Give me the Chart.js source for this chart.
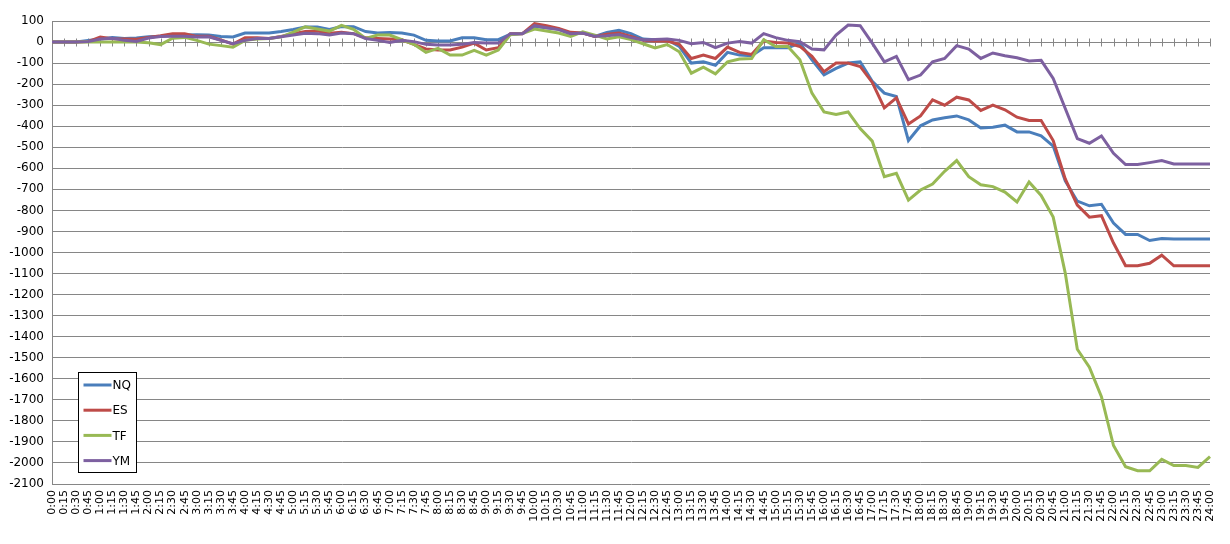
<!DOCTYPE html>
<html>
<head>
<meta charset="utf-8">
<script src="https://cdn.jsdelivr.net/npm/chart.js@4.4.1/dist/chart.umd.min.js"></script>
<style>
  html, body { margin: 0; padding: 0; background: #fff; }
  canvas { display: block; }
</style>
</head>
<body>
<canvas id="chart" width="1230" height="544"></canvas>
<script>
const timeLabels = [
  '0:00','0:15','0:30','0:45','1:00','1:15','1:30','1:45','2:00','2:15','2:30','2:45',
  '3:00','3:15','3:30','3:45','4:00','4:15','4:30','4:45','5:00','5:15','5:30','5:45',
  '6:00','6:15','6:30','6:45','7:00','7:15','7:30','7:45','8:00','8:15','8:30','8:45',
  '9:00','9:15','9:30','9:45','10:00','10:15','10:30','10:45','11:00','11:15','11:30','11:45',
  '12:00','12:15','12:30','12:45','13:00','13:15','13:30','13:45','14:00','14:15','14:30','14:45',
  '15:00','15:15','15:30','15:45','16:00','16:15','16:30','16:45','17:00','17:15','17:30','17:45',
  '18:00','18:15','18:30','18:45','19:00','19:15','19:30','19:45','20:00','20:15','20:30','20:45',
  '21:00','21:15','21:30','21:45','22:00','22:15','22:30','22:45','23:00','23:15','23:30','23:45',
  '24:00'
];

const nqValues = [
  0, 0, 0, 8, 15, 22, 17, 19, 25, 28, 33, 33,
  35, 33, 26, 24, 43, 43, 43, 50, 60, 72, 71, 60,
  74, 73, 50, 43, 45, 43, 33, 8, 5, 5, 20, 20,
  11, 11, 37, 40, 74, 68, 62, 40, 43, 27, 45, 56,
  40, 14, 11, 11, -21, -100, -94, -110, -49, -62, -65, -27,
  -27, -27, -5, -84, -156, -125, -100, -94, -186, -243, -259, -468,
  -398, -370, -360, -351, -370, -408, -405, -395, -427, -427, -446, -494,
  -660, -756, -778, -771, -860, -914, -914, -943, -933, -936, -936, -936,
  -936
];

const esValues = [
  0, 0, 0, 2, 24, 16, 15, 13, 22, 30, 40, 39,
  27, 27, 10, -10, 20, 20, 17, 27, 40, 50, 52, 42,
  47, 40, 20, 17, 14, 11, -11, -33, -38, -38, -24, -5,
  -38, -27, 40, 40, 88, 78, 65, 46, 43, 27, 37, 43,
  27, 8, 5, 5, -11, -78, -62, -78, -24, -49, -59, 5,
  -2, -5, -21, -68, -141, -100, -100, -116, -192, -313, -265, -389,
  -351, -275, -300, -262, -275, -325, -300, -322, -357, -373, -373, -468,
  -650, -775, -832, -825, -955, -1063, -1063, -1051, -1013, -1063, -1063, -1063,
  -1063
];

const tfValues = [
  0, 0, 0, 0, 0, 0, 0, 0, -3, -12, 18, 22,
  8, -10, -17, -25, 8, 15, 17, 25, 47, 72, 62, 52,
  79, 60, 17, 33, 33, 11, -11, -49, -30, -62, -62, -40,
  -62, -38, 35, 40, 62, 52, 43, 27, 49, 33, 15, 25,
  12, -8, -28, -12, -46, -148, -119, -151, -94, -81, -78, 11,
  -21, -21, -84, -243, -332, -344, -332, -411, -471, -640, -624, -751,
  -703, -675, -614, -563, -640, -678, -687, -713, -760, -665, -729, -832,
  -1098, -1460, -1545, -1685, -1917, -2018, -2037, -2037, -1983, -2012, -2012, -2021,
  -1970
];

const ymValues = [
  0, 0, 0, 2, 14, 18, 8, 3, 19, 26, 27, 27,
  24, 25, 8, -8, 8, 17, 17, 25, 33, 42, 40, 33,
  43, 40, 17, 8, -2, 8, 2, -11, -14, -14, -11, -2,
  -5, -5, 40, 40, 78, 68, 59, 40, 43, 27, 30, 36,
  21, 10, 12, 14, 8, -8, -2, -27, -5, 2, -5, 40,
  21, 8, 2, -33, -37, 33, 81, 78, -5, -94, -68, -179,
  -157, -94, -78, -17, -33, -78, -52, -65, -75, -90, -87, -173,
  -316, -459, -481, -446, -529, -582, -582, -573, -563, -579, -579, -579,
  -579
];

const seriesNames = ['NQ', 'ES', 'TF', 'YM'];
const seriesColors = ['#4a7ebb', '#be4b48', '#98b954', '#7d60a0'];
const seriesValues = [nqValues, esValues, tfValues, ymValues];

const gridColor = '#868686';

// x axis crosses at zero, with tick marks on both sides like the original
const zeroAxisTicks = {
  id: 'zeroAxisTicks',
  beforeDatasetsDraw(chart) {
    const { ctx, scales: { x, y } } = chart;
    const y0 = Math.round(y.getPixelForValue(0)) + 0.5;
    ctx.save();
    ctx.strokeStyle = gridColor;
    ctx.lineWidth = 1;
    ctx.beginPath();
    ctx.moveTo(x.left, y0);
    ctx.lineTo(x.right, y0);
    for (let i = 0; i < timeLabels.length; i++) {
      const px = Math.round(x.getPixelForValue(i)) + 0.5;
      ctx.moveTo(px, y0 - 4);
      ctx.lineTo(px, y0 + 4);
    }
    ctx.stroke();
    ctx.restore();
  }
};

// boxed legend sitting inside the plot, bottom left
const boxLegend = {
  id: 'boxLegend',
  afterDraw(chart) {
    const { ctx, chartArea } = chart;
    const left = Math.round(chartArea.left + 26) + 0.5;
    const top = Math.round(chartArea.bottom - 112) + 0.5;
    const w = 58, h = 100;
    ctx.save();
    ctx.fillStyle = '#fff';
    ctx.fillRect(left, top, w, h);
    ctx.strokeStyle = '#000';
    ctx.lineWidth = 1;
    ctx.strokeRect(left, top, w, h);
    ctx.font = '12px "DejaVu Sans"';
    ctx.textBaseline = 'middle';
    ctx.fillStyle = '#000';
    chart.data.datasets.forEach((ds, i) => {
      const cy = top + 12.5 + i * 25.2;
      ctx.strokeStyle = ds.borderColor;
      ctx.lineWidth = 3;
      ctx.beginPath();
      ctx.moveTo(left + 5, cy);
      ctx.lineTo(left + 33, cy);
      ctx.stroke();
      ctx.fillText(ds.label, left + 34, cy + 1);
    });
    ctx.restore();
  }
};

Chart.defaults.font.family = '"DejaVu Sans", sans-serif';
Chart.defaults.color = '#000';

const ctx = document.getElementById('chart').getContext('2d');
new Chart(ctx, {
  type: 'line',
  data: {
    labels: timeLabels,
    datasets: seriesNames.map((name, i) => ({
      label: name,
      data: seriesValues[i],
      borderColor: seriesColors[i],
      backgroundColor: seriesColors[i],
      borderWidth: 3,
      pointRadius: 0,
      tension: 0,
      fill: false,
      order: seriesNames.length - i
    }))
  },
  options: {
    responsive: false,
    animation: false,
    layout: {
      padding: { top: 21, right: 20, bottom: 0, left: 0 }
    },
    plugins: {
      legend: { display: false },
      tooltip: { enabled: false }
    },
    scales: {
      x: {
        type: 'category',
        offset: false,
        grid: { display: false, drawTicks: false },
        border: { display: false },
        ticks: {
          autoSkip: false,
          minRotation: 90,
          maxRotation: 90,
          padding: 6,
          font: { size: 11 }
        },
        afterFit(scale) {
          scale.height = 60;
        }
      },
      y: {
        min: -2100,
        max: 100,
        grid: { color: gridColor, drawTicks: false },
        border: { display: true, color: gridColor },
        ticks: {
          stepSize: 100,
          padding: 8,
          font: { size: 12 },
          callback: (value) => String(value)
        },
        afterFit(scale) {
          scale.width = 52;
        }
      }
    }
  },
  plugins: [zeroAxisTicks, boxLegend]
});
</script>
</body>
</html>
